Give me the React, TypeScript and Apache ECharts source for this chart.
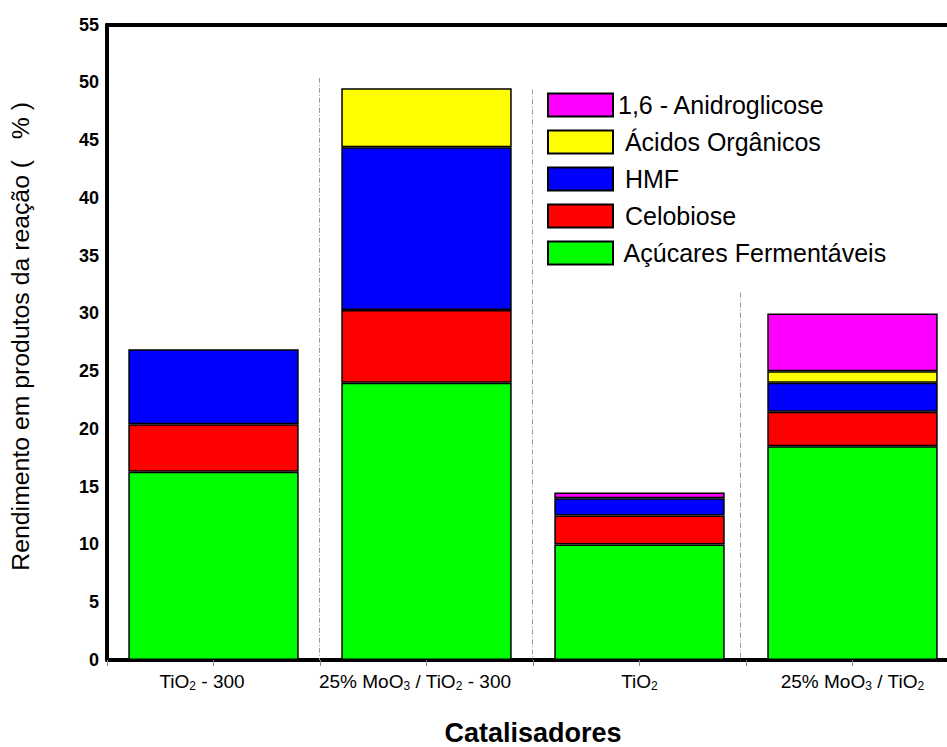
import React, { useEffect, useRef } from "react";
import * as echarts from "echarts";

const categories = ["TiO₂ - 300", "25% MoO₃ / TiO₂ - 300", "TiO₂", "25% MoO₃ / TiO₂"];
const acucares = [16.3, 24.0, 10.0, 18.5];
const celobiose = [4.1, 6.3, 2.5, 3.0];
const hmf = [6.5, 14.1, 1.5, 2.5];
const acidos = [null, 5.1, null, 1.0];
const anidro = [null, null, 0.5, 5.0];
const yTicks = { min: 0, max: 55, interval: 5 };
// separators between categories: [x position on 0..4 scale, top value]
const separators = [
  [0.995, 50.4],
  [1.995, 49.4],
  [2.975, 31.8],
];

const FONT = "'Liberation Sans', Arial, sans-serif";

function toRich(label: string): string {
  const parts: [string, string][] = [];
  let buf = "";
  for (const ch of label) {
    if (ch === "₂" || ch === "₃") {
      if (buf) parts.push(["n", buf]);
      buf = "";
      parts.push(["s", ch === "₂" ? "2" : "3"]);
    } else buf += ch;
  }
  if (buf) parts.push(["n", buf]);
  // labels ending in " - 300" sit a little left of the bar centre in the original
  if (label.endsWith("- 300")) parts[parts.length - 1][0] = "np";
  return parts.map(([s, t]) => `{${s}|${t}}`).join("");
}

export default function App() {
  const ref = useRef<HTMLDivElement>(null);
  useEffect(() => {
    if (!ref.current) return;
    const chart = echarts.init(ref.current, null, { renderer: "svg" });
    const border = { borderColor: "#000", borderWidth: 1.5 };
    const mk = (name: string, data: any[], color: string) => ({
      name,
      type: "bar",
      stack: "total",
      data,
      barCategoryGap: "20%",
      itemStyle: { color, ...border },
      xAxisIndex: 0,
      yAxisIndex: 0,
    });
    const nStyle = { fontFamily: FONT, fontSize: 19, color: "#000", verticalAlign: "top", lineHeight: 20 };
    chart.setOption({
      animation: false,
      backgroundColor: "#fff",
      textStyle: { fontFamily: FONT },
      grid: { left: 107, top: 24.7, width: 852, bottom: 87, containLabel: false, outerBoundsMode: "none" },
      legend: {
        orient: "vertical",
        left: 547,
        top: 92.5,
        padding: 0,
        icon: "rect",
        itemWidth: 65,
        itemHeight: 23,
        itemGap: 12,
        data: ["1,6 - Anidroglicose", "Ácidos Orgânicos", "HMF", "Celobiose", "Açúcares Fermentáveis"],
        formatter: (n: string) => (n === "1,6 - Anidroglicose" ? n : " " + n),
        textStyle: { fontFamily: FONT, fontSize: 25, color: "#000" },
      },
      xAxis: [
        {
          type: "category",
          data: categories,
          position: "bottom",
          axisLine: { lineStyle: { color: "#000", width: 4 } },
          axisTick: { show: false },
          axisLabel: {
            margin: 12,
            interval: 0,
            formatter: (v: string) => toRich(v),
            rich: {
              n: nStyle,
              np: { ...nStyle, padding: [0, 23, 0, 0] },
              s: { fontFamily: FONT, fontSize: 12, color: "#000", verticalAlign: "bottom", lineHeight: 12, padding: [16, 0, 0, 0] },
            },
          },
          name: "Catalisadores",
          nameLocation: "middle",
          nameGap: 59,
          nameTextStyle: { fontFamily: FONT, fontSize: 27, lineHeight: 27, fontWeight: "bold", color: "#000" },
        },
        {
          type: "value",
          min: 0,
          max: 4,
          interval: 0.5,
          position: "bottom",
          axisLine: { show: false },
          axisTick: { show: true, length: 6, lineStyle: { color: "#888", width: 1 } },
          axisLabel: { show: false },
          splitLine: { show: false },
        },
        {
          type: "value",
          min: 0,
          max: 4,
          position: "top",
          axisLine: { show: true, lineStyle: { color: "#000", width: 4 } },
          axisTick: { show: false },
          axisLabel: { show: false },
          splitLine: { show: false },
        },
      ],
      yAxis: {
        type: "value",
        min: yTicks.min,
        max: yTicks.max,
        interval: yTicks.interval,
        axisLine: { show: true, lineStyle: { color: "#000", width: 4 } },
        axisTick: { show: false },
        splitLine: { show: false },
        axisLabel: { margin: 8, fontFamily: FONT, fontSize: 18, fontWeight: "bold", color: "#000" },
        name: "Rendimento em produtos da reação (   % )",
        nameLocation: "middle",
        nameGap: 74,
        nameTextStyle: { fontFamily: FONT, fontSize: 24.8, color: "#000", padding: [0, 0, 0, 12] },
      },
      series: [
        mk("Açúcares Fermentáveis", acucares, "#00ff00"),
        mk("Celobiose", celobiose, "#ff0000"),
        mk("HMF", hmf, "#0000ff"),
        mk("Ácidos Orgânicos", acidos, "#ffff00"),
        mk("1,6 - Anidroglicose", anidro, "#ff00ff"),
        {
          type: "line",
          xAxisIndex: 1,
          yAxisIndex: 0,
          data: [],
          silent: true,
          markLine: {
            silent: true,
            symbol: "none",
            label: { show: false },
            lineStyle: { color: "#999", width: 1, type: [5, 2, 1, 2] },
            data: separators.map(([x, top]) => [{ coord: [x, top] }, { coord: [x, 0] }]),
          },
        },
      ],
    });
    return () => chart.dispose();
  }, []);
  return (
    <div style={{ position: "fixed", left: 0, top: 0, width: 947, height: 747, overflow: "hidden" }}>
      <div ref={ref} style={{ width: 960, height: 747 }} />
    </div>
  );
}
